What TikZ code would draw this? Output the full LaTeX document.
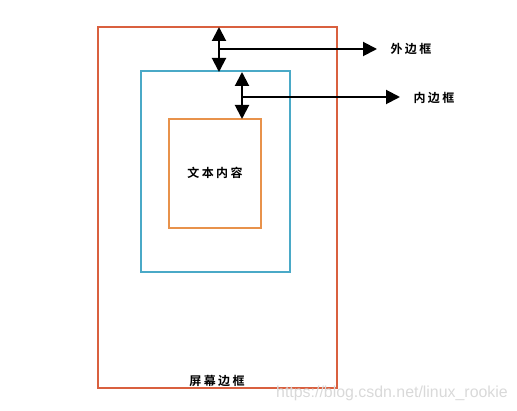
\documentclass[tikz,border=0pt]{standalone}
\usepackage{fontspec}
\setmainfont{Liberation Sans}
\newfontfamily\cjk[LetterSpace=20,UprightFont=* Bold]{Noto Sans CJK SC}
\usetikzlibrary{arrows.meta}
\definecolor{outerred}{HTML}{D9603F}
\definecolor{innerblue}{HTML}{4AA9C7}
\definecolor{contentorange}{HTML}{E8924B}
\tikzset{
  box/.style={draw, line width=2pt, rectangle, inner sep=0pt},
  lbl/.style={font=\cjk\fontsize{12}{14}\selectfont, inner sep=0pt},
  dim/.style={line width=2pt, {Triangle[length=14pt,width=14pt]}-{Triangle[length=14pt,width=14pt]}},
  lead/.style={line width=2pt, -{Triangle[length=14pt,width=14pt]}}
}
\begin{document}
\begin{tikzpicture}[x=1pt,y=-1pt]
\useasboundingbox (0,0) rectangle (517,411);
\node[box, draw=outerred, minimum width=239pt, minimum height=361pt] (outer) at (217.5,207.5) {};
\node[box, draw=innerblue, minimum width=149pt, minimum height=201pt] (inner) at (215.5,172) {};
\node[box, draw=contentorange, minimum width=92pt, minimum height=109pt] (content) at (215,173.5) {};
\node[lbl] (ctext) at (215,173) {文本内容};
\node[lbl] (screen) at (217,381) {屏幕边框};
\node[lbl] (outlbl) at (411,49) {外边框};
\node[lbl] (inlbl) at (434,98) {内边框};
\coordinate (a1top) at (219,27);
\coordinate (a1bot) at (219,72);
\coordinate (a1mid) at (219,49);
\coordinate (a1end) at (377,49);
\coordinate (a2top) at (242,72);
\coordinate (a2bot) at (242,119);
\coordinate (a2mid) at (242,97);
\coordinate (a2end) at (400,97);
\draw[dim] (a1top) -- (a1bot);
\draw[lead] (a1mid) -- (a1end);
\draw[dim] (a2top) -- (a2bot);
\draw[lead] (a2mid) -- (a2end);
\node[text=black!15, font=\fontsize{15.9}{18}\selectfont, inner sep=0pt] (wm) at (392,393) {https://blog.csdn.net/linux\_rookie};
\end{tikzpicture}
\end{document}
